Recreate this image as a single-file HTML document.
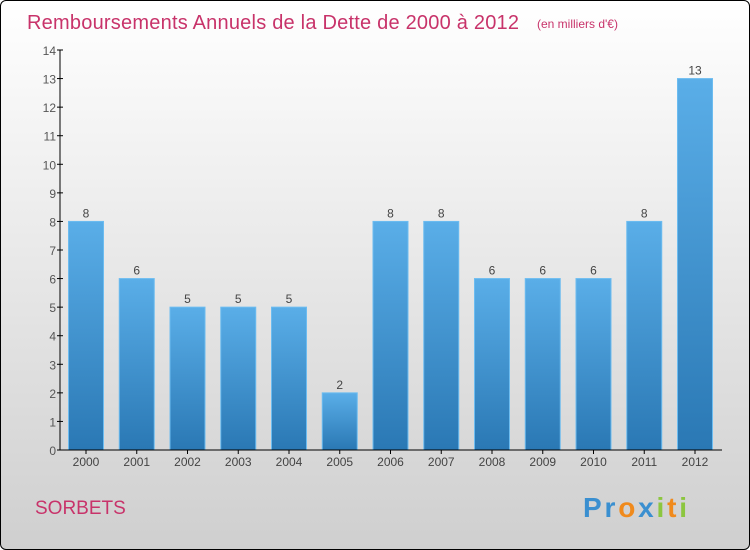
<!DOCTYPE html>
<html><head><meta charset="utf-8"><style>
body{margin:0;width:750px;height:550px;overflow:hidden;font-family:"Liberation Sans",sans-serif}
#frame{position:absolute;left:0;top:0;width:748px;height:548px;border:1px solid #000;border-radius:6px;background:linear-gradient(#ffffff,#cfcfcf)}
</style></head><body>
<div id="frame">
<svg width="750" height="550" id="svg" style="position:absolute;left:-1px;top:-1px">
<defs><linearGradient id="bg" x1="0" y1="0" x2="0" y2="1"><stop offset="0" stop-color="#5aaee8"/><stop offset="1" stop-color="#2a78b4"/></linearGradient></defs>
<text x="27" y="29" font-size="20" fill="#c8336a" textLength="492">Remboursements Annuels de la Dette de 2000 à 2012</text>
<text x="537" y="28" font-size="12" fill="#c8336a">(en milliers d'€)</text>
<text x="35" y="514" font-size="19" fill="#c8336a">SORBETS</text>
<text x="583" y="517" font-size="28" font-weight="bold" textLength="104"><tspan fill="#3a8fd0">Pr</tspan><tspan fill="#f08a1c">o</tspan><tspan fill="#3a8fd0">x</tspan><tspan fill="#8cc63f">i</tspan><tspan fill="#f08a1c">t</tspan><tspan fill="#8cc63f">i</tspan></text>
<g id="plot"></g>
</svg></div>
<script>
const categories=["2000","2001","2002","2003","2004","2005","2006","2007","2008","2009","2010","2011","2012"];
const values=[8,6,5,5,5,2,8,8,6,6,6,8,13];
const yTicks=[0,1,2,3,4,5,6,7,8,9,10,11,12,13,14];
const NS="http://www.w3.org/2000/svg";
const g=document.getElementById('plot');
const y0=450,yTop=50,yMax=14;
const y=v=>y0-(v/yMax)*(y0-yTop);
const x=i=>86+i*50.75;
function el(t,a,txt){const e=document.createElementNS(NS,t);for(const k in a)e.setAttribute(k,a[k]);if(txt!==undefined)e.textContent=txt;g.appendChild(e);return e;}
categories.forEach((c,i)=>{
 const r=el('rect',{x:x(i)-17.5,y:y(values[i]),width:35,height:y0-y(values[i]),fill:'url(#bg)',stroke:'#6cbcf0','stroke-width':1});
 
 
 const t=el('text',{x:x(i),y:y(values[i])-4,'font-size':12,fill:'#444','text-anchor':'middle'},String(values[i]));
 
 
 const l=el('text',{x:x(i),y:466,'font-size':12,fill:'#444','text-anchor':'middle'},c);
 
 
 el('line',{x1:x(i),x2:x(i),y1:450,y2:454,stroke:'#000'});
});
yTicks.forEach(v=>{
 el('line',{x1:57,x2:63,y1:y(v),y2:y(v),stroke:'#000'});
 const t=el('text',{x:56,y:y(v)+5,'font-size':12,fill:'#555','text-anchor':'end'},String(v));
 
 
});
const ya=el('line',{x1:60,x2:60,y1:yTop,y2:y0,stroke:'#000'});


const xa=el('line',{x1:60,x2:722,y1:y0,y2:y0,stroke:'#000'});


</script>
</body></html>
